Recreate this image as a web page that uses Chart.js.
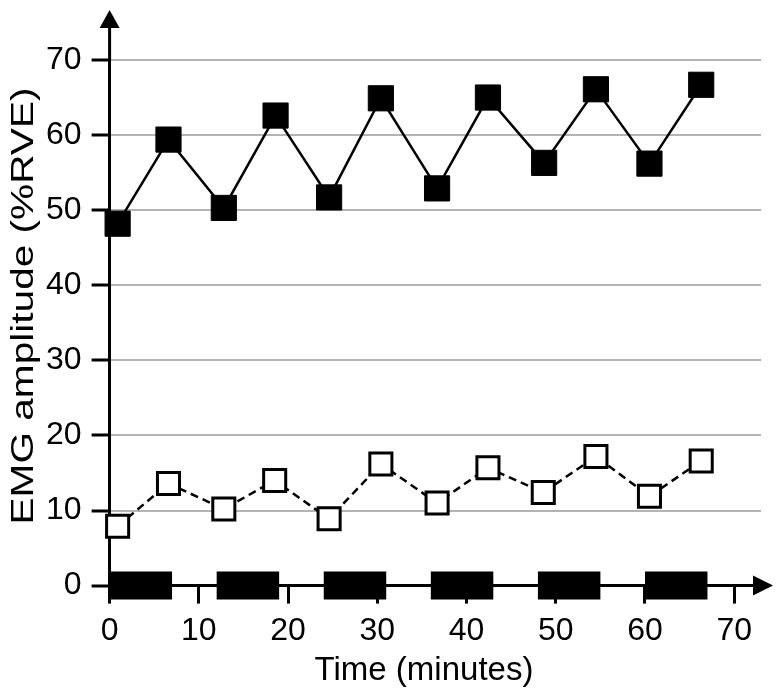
<!DOCTYPE html>
<html>
<head>
<meta charset="utf-8">
<script src="https://cdn.jsdelivr.net/npm/chart.js@4.4.1/dist/chart.umd.min.js"></script>
<style>
  html, body { margin: 0; padding: 0; background: #fff; }
  #wrap { width: 783px; height: 693px; }
</style>
</head>
<body>
<div id="wrap"><canvas id="chart"></canvas></div>
<script>
// time points (minutes)
const timeFilled = [0.9, 6.6, 12.8, 18.6, 24.6, 30.4, 36.7, 42.4, 48.7, 54.5, 60.5, 66.3];
const amplitudeFilled = [48.2, 59.4, 50.3, 62.6, 51.7, 64.9, 52.9, 65.0, 56.3, 66.1, 56.2, 66.7];
const timeOpen = [0.9, 6.6, 12.8, 18.5, 24.6, 30.4, 36.7, 42.4, 48.6, 54.5, 60.5, 66.3];
const amplitudeOpen = [7.9, 13.6, 10.2, 14.0, 8.9, 16.2, 11.0, 15.7, 12.4, 17.2, 11.9, 16.6];

// black blocks sitting on the time axis
const blockStart = [0, 12, 24, 36, 48, 60];
const blockEnd = [7, 19, 31, 43, 55, 67];

const xTicks = [0, 10, 20, 30, 40, 50, 60, 70];
const yTicks = [0, 10, 20, 30, 40, 50, 60, 70];

const xTitle = 'Time (minutes)';
const yTitle = 'EMG amplitude (%RVE)';

const FONT = '"Liberation Sans", Arial, Helvetica, sans-serif';

function toPoints(xs, ys) {
  return xs.map((x, i) => ({ x: x, y: ys[i] }));
}

const blockPoints = [];
blockStart.forEach((s, i) => {
  blockPoints.push({ x: s, y: 0 });
  blockPoints.push({ x: blockEnd[i], y: 0 });
  blockPoints.push({ x: blockEnd[i] + 1, y: null });
});

// axis arrows and the two axis titles
const decorPlugin = {
  id: 'decor',
  afterDraw(chart) {
    const ctx = chart.ctx;
    const a = chart.chartArea;
    const x0 = chart.scales.x.getPixelForValue(0);
    const y0 = chart.scales.y.getPixelForValue(0);
    ctx.save();
    ctx.strokeStyle = '#000';
    ctx.fillStyle = '#000';
    ctx.lineWidth = 3;
    ctx.beginPath();
    ctx.moveTo(x0, a.top);
    ctx.lineTo(x0, 26);
    ctx.moveTo(a.right - 2, y0);
    ctx.lineTo(756, y0);
    ctx.stroke();
    ctx.beginPath();
    ctx.moveTo(x0, 10);
    ctx.lineTo(x0 - 10, 28);
    ctx.lineTo(x0 + 10, 28);
    ctx.closePath();
    ctx.fill();
    ctx.beginPath();
    ctx.moveTo(773, y0);
    ctx.lineTo(753, y0 - 10);
    ctx.lineTo(753, y0 + 10);
    ctx.closePath();
    ctx.fill();

    ctx.textAlign = 'center';
    ctx.textBaseline = 'alphabetic';
    ctx.font = '33px ' + FONT;
    ctx.fillText(xTitle, 424, 680);

    // y title is drawn stretched along its length, as in the source figure
    ctx.font = '32px ' + FONT;
    ctx.translate(33, 306);
    ctx.rotate(-Math.PI / 2);
    const w = ctx.measureText(yTitle).width;
    ctx.scale(437 / w, 1);
    ctx.fillText(yTitle, 0, 0);
    ctx.restore();
  }
};

new Chart(document.getElementById('chart'), {
  type: 'line',
  data: {
    datasets: [
      {
        data: blockPoints,
        borderColor: '#000',
        borderWidth: 28,
        borderCapStyle: 'butt',
        pointRadius: 0,
        spanGaps: false,
        clip: false,
        order: 3
      },
      {
        data: toPoints(timeOpen, amplitudeOpen),
        borderColor: '#000',
        borderWidth: 2.5,
        borderDash: [8, 5],
        pointStyle: 'rect',
        pointRadius: 15.6,
        pointBorderWidth: 3,
        pointBackgroundColor: '#fff',
        pointBorderColor: '#000',
        clip: false,
        order: 2
      },
      {
        data: toPoints(timeFilled, amplitudeFilled),
        borderColor: '#000',
        borderWidth: 2.5,
        pointStyle: 'rect',
        pointRadius: 17.8,
        pointBorderWidth: 1,
        pointBackgroundColor: '#000',
        pointBorderColor: '#000',
        clip: false,
        order: 1
      }
    ]
  },
  options: {
    responsive: true,
    maintainAspectRatio: false,
    animation: false,
    events: [],
    layout: { padding: { top: 60, right: 22, left: 36, bottom: 35 } },
    plugins: {
      legend: { display: false },
      tooltip: { enabled: false }
    },
    scales: {
      x: {
        type: 'linear',
        min: 0,
        max: 73,
        afterBuildTicks: (scale) => { scale.ticks = xTicks.map(v => ({ value: v })); },
        grid: { drawOnChartArea: false, tickLength: 18, tickWidth: 3, tickColor: '#000' },
        border: { color: '#000', width: 3 },
        ticks: { color: '#000', padding: 8, font: { family: FONT, size: 32 } }
      },
      y: {
        min: 0,
        max: 70,
        afterBuildTicks: (scale) => { scale.ticks = yTicks.map(v => ({ value: v })); },
        grid: { color: '#b4b4b4', lineWidth: 2, tickLength: 18, tickWidth: 3, tickColor: '#000' },
        border: { color: '#000', width: 3 },
        ticks: { color: '#000', padding: 10, font: { family: FONT, size: 32 } }
      }
    }
  },
  plugins: [decorPlugin]
});
</script>
</body>
</html>
